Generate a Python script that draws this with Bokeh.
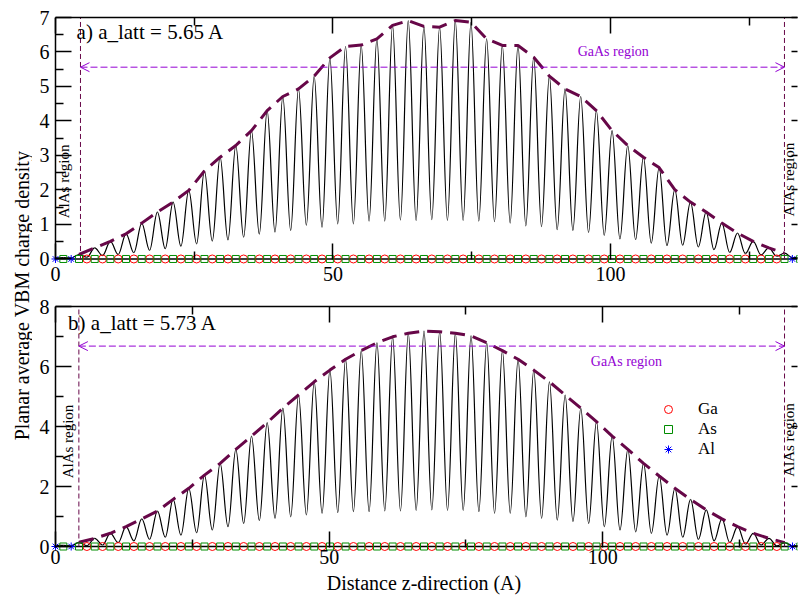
import numpy as np
from bokeh.plotting import figure
from bokeh.layouts import row, column
from bokeh.models import (LinearAxis, Range1d, Label, Arrow, OpenHead, Legend,
                          LegendItem, FixedTicker)
from bokeh.embed import file_html
from bokeh.resources import INLINE

SERIF = "Liberation Serif"
MAROON = "#670748"
VIOLET = "#9400d3"
GA_COLOR = "#ff0000"
AS_COLOR = "#008c00"
AL_COLOR = "#0000ff"

# lattice constants (A)
A_LATT_A = 5.65
A_LATT_B = 5.73

# planar-average density at the As layers (peaks, j = 0..47), panel a
peaks_a = [0.04, 0.13, 0.32, 0.51, 0.73, 1.04, 1.36, 1.65, 1.99, 2.55, 2.95, 3.29,
           3.72, 4.30, 4.71, 4.93, 5.30, 5.83, 6.16, 6.20, 6.38, 6.77, 6.91, 6.74,
           6.72, 6.91, 6.86, 6.38, 6.19, 6.19, 5.85, 5.30, 4.93, 4.71, 4.30, 3.72,
           3.29, 2.95, 2.65, 2.01, 1.65, 1.36, 1.04, 0.75, 0.51, 0.32, 0.17, 0.04]
# density at the cation layers between peaks (troughs), panel a
troughs_a = [0.03, 0.05, 0.10, 0.13, 0.18, 0.25, 0.30, 0.37, 0.44, 0.52, 0.55, 0.63,
             0.72, 0.78, 0.83, 0.98, 0.92, 1.02, 1.02, 1.10, 1.10, 1.13, 1.12, 1.14,
             1.12, 1.12, 1.10, 1.08, 1.04, 0.96, 0.94, 0.85, 0.83, 0.77, 0.68, 0.58,
             0.56, 0.46, 0.39, 0.40, 0.35, 0.27, 0.19, 0.16, 0.12, 0.08, 0.04]
edge_a = [0.03, 0.03]

peaks_b = [0.04, 0.14, 0.27, 0.44, 0.66, 0.92, 1.18, 1.57, 1.94, 2.38, 2.77, 3.24,
           3.68, 4.13, 4.61, 5.05, 5.49, 5.88, 6.24, 6.53, 6.79, 6.99, 7.11, 7.18,
           7.16, 7.11, 7.02, 6.79, 6.53, 6.24, 5.88, 5.49, 5.05, 4.61, 4.16, 3.68,
           3.24, 2.77, 2.35, 1.94, 1.57, 1.22, 0.92, 0.66, 0.44, 0.27, 0.13, 0.04]
troughs_b = [0.02, 0.03, 0.05, 0.13, 0.19, 0.24, 0.31, 0.38, 0.46, 0.55, 0.66, 0.77,
             0.86, 0.94, 0.99, 1.05, 1.11, 1.13, 1.16, 1.16, 1.19, 1.19, 1.20, 1.22,
             1.20, 1.20, 1.16, 1.11, 1.11, 0.99, 0.94, 0.88, 0.83, 0.77, 0.66, 0.55,
             0.49, 0.44, 0.38, 0.31, 0.24, 0.19, 0.13, 0.08, 0.05, 0.02, 0.02]
edge_b = [0.03, 0.03]

# atomic layers (layer index; z = index * a_latt / 4)
al_layers = [0, 2, 94, 96]
ga_layers = list(range(4, 93, 2))
as_layers = list(range(1, 96, 2))

# region boundaries (A) and arrow levels
bounds_a = [4.5, 131.35]
bounds_b = [4.27, 133.2]
arrow_level_a = 5.56
arrow_level_b = 6.68

x_major = [0, 50, 100]
x_minor = [25, 75, 125]
y_major_a = [0, 1, 2, 3, 4, 5, 6, 7]
y_minor_a = [0.5, 1.5, 2.5, 3.5, 4.5, 5.5, 6.5]
y_major_b = [0, 2, 4, 6, 8]
y_minor_b = [1, 3, 5, 7]

legend_labels = ["Ga", "As", "Al"]

PAD = 5  # px of frame kept outside the z=0 / density=0 axes


def layer_values(peaks, troughs, edge):
    vals = [edge[0]]
    for j, pk in enumerate(peaks):
        vals.append(pk)
        if j < len(troughs):
            vals.append(troughs[j])
    vals.append(edge[1])
    return np.array(vals, dtype=float)


def tick_style(ax, major_in, minor_in, out=0):
    ax.major_tick_in = major_in
    ax.major_tick_out = out
    ax.minor_tick_in = minor_in
    ax.minor_tick_out = out
    ax.major_tick_line_width = 1.5
    ax.minor_tick_line_width = 1.5
    ax.major_tick_line_color = "black"
    ax.minor_tick_line_color = "black"


def label_style(ax, standoff):
    ax.major_label_standoff = standoff
    ax.major_label_text_font = SERIF
    ax.major_label_text_font_size = "20px"
    ax.major_label_text_color = "black"


def tick_only_axis(ticks, tick_in, with_line, bounds=None):
    ax = LinearAxis(ticker=FixedTicker(ticks=[], minor_ticks=ticks))
    tick_style(ax, 0, tick_in)
    ax.major_label_standoff = 0
    if with_line:
        ax.axis_line_color = "black"
        ax.axis_line_width = 1.5
    else:
        ax.axis_line_color = None
    if bounds is not None:
        ax.bounds = bounds
    return ax


def make_panel(cfg):
    a = cfg["a"]
    h = a / 4.0
    p = figure(width=766, height=cfg["height"],
               x_range=Range1d(cfg["x_start"], cfg["x_end"]),
               y_range=Range1d(cfg["y_start"], cfg["y_top"]),
               x_axis_type=None, y_axis_type=None,
               output_backend="svg", toolbar_location=None,
               min_border_left=18, min_border_right=1,
               min_border_top=cfg["border_top"], min_border_bottom=cfg["border_bottom"],
               outline_line_color=None, background_fill_color="white",
               border_fill_color="white")

    # bottom axis: ticks start at density 0 (PAD px above frame edge)
    below = LinearAxis(ticker=FixedTicker(ticks=x_major, minor_ticks=x_minor))
    below.axis_line_color = None
    tick_style(below, 16 + PAD, 8 + PAD, out=-PAD)
    label_style(below, cfg["xstandoff"])
    if cfg.get("xlabel"):
        below.axis_label = cfg["xlabel"]
        below.axis_label_text_font = SERIF
        below.axis_label_text_font_size = "20px"
        below.axis_label_text_font_style = "normal"
        below.axis_label_text_color = "black"
        below.axis_label_standoff = 5
    p.add_layout(below, "below")

    left = LinearAxis(ticker=FixedTicker(ticks=cfg["y_major"], minor_ticks=cfg["y_minor"]))
    left.axis_line_color = None
    tick_style(left, 16 + PAD, 8 + PAD, out=-PAD)
    label_style(left, 6)
    p.add_layout(left, "left")

    # mirrored ticks on top and right
    p.add_layout(tick_only_axis(x_major, 16, True, bounds=(0, cfg["x_end"])), "above")
    p.add_layout(tick_only_axis(x_minor, 8, False, bounds=(0, cfg["x_end"])), "above")
    p.add_layout(tick_only_axis(cfg["y_major"], 6, False), "right")

    # axis lines at z = 0 and density = 0
    p.segment(x0=[0, 0], y0=[0, 0], x1=[cfg["x_end"], 0], y1=[0, cfg["y_top"]],
              line_color="black", line_width=1.5)

    # density curve: smooth segments between successive atomic layers
    vals = layer_values(cfg["peaks"], cfg["troughs"], cfg["edge"])
    z = np.arange(len(vals)) * h
    k = 0.3642 * h
    p.bezier(x0=z[:-1], y0=vals[:-1], x1=z[1:], y1=vals[1:],
             cx0=z[:-1] + k, cy0=vals[:-1], cx1=z[1:] - k, cy1=vals[1:],
             line_color="black", line_width=1.2)

    # envelope through the As peaks inside the GaAs region
    pk = np.array(cfg["peaks"])
    idx = np.arange(1, len(pk) - 1)
    p.line((2 * idx + 1) * h, pk[idx], line_color=MAROON, line_width=3,
           line_dash="15 8")

    # region boundaries
    bnd = cfg["bounds"]
    p.segment(x0=bnd, y0=[0, 0], x1=bnd, y1=[cfg["y_top"], cfg["y_top"]],
              line_color=MAROON, line_width=1, line_dash="5 3")
    p.add_layout(Arrow(start=OpenHead(size=9, line_color=VIOLET, line_width=1),
                       end=OpenHead(size=9, line_color=VIOLET, line_width=1),
                       x_start=bnd[0], y_start=cfg["arrow_y"],
                       x_end=bnd[1], y_end=cfg["arrow_y"],
                       line_color=VIOLET, line_width=1, line_dash="7 3"))

    # atoms
    r_ga = p.scatter(np.array(ga_layers) * h, np.zeros(len(ga_layers)), marker="circle",
                     size=8, fill_color=None, line_color=GA_COLOR, line_width=1)
    r_as = p.scatter(np.array(as_layers) * h, np.zeros(len(as_layers)), marker="square",
                     size=7, fill_color=None, line_color=AS_COLOR, line_width=1)
    r_al = p.scatter(np.array(al_layers) * h, np.zeros(len(al_layers)), marker="asterisk",
                     size=8, line_color=AL_COLOR, line_width=1)

    # texts
    tx, ty = cfg["title_xy"]
    p.add_layout(Label(x=tx, y=ty, text=cfg["title"], text_font=SERIF,
                       text_font_size="21px", text_color="black",
                       text_align="left", text_baseline="middle"))
    gx, gy = cfg["gaas_xy"]
    p.add_layout(Label(x=gx, y=gy, text="GaAs region", text_font=SERIF,
                       text_font_size="14px", text_color=VIOLET,
                       text_align="center", text_baseline="middle"))
    for (ax_, ay_) in (cfg["alas_l"], cfg["alas_r"]):
        p.add_layout(Label(x=ax_, y=ay_, text="AlAs region", text_font=SERIF,
                           text_font_size="15px", text_color="black",
                           angle=np.pi / 2, text_align="center",
                           text_baseline="middle"))

    if cfg.get("legend_loc") is not None:
        legend = Legend(items=[LegendItem(label=legend_labels[0], renderers=[r_ga]),
                               LegendItem(label=legend_labels[1], renderers=[r_as]),
                               LegendItem(label=legend_labels[2], renderers=[r_al])],
                        location=cfg["legend_loc"], orientation="vertical",
                        glyph_width=20, glyph_height=20, label_standoff=20,
                        label_height=20, spacing=0, padding=0, margin=0,
                        border_line_color=None, background_fill_alpha=0,
                        label_text_font=SERIF, label_text_font_size="17px",
                        label_text_color="black")
        p.add_layout(legend)
    return p


cfg_a = dict(a=A_LATT_A, peaks=peaks_a, troughs=troughs_a, edge=edge_a,
             bounds=bounds_a, arrow_y=arrow_level_a,
             x_start=-0.9, x_end=133.7, y_start=-0.16, y_top=7,
             y_major=y_major_a, y_minor=y_minor_a,
             height=293, border_top=17, border_bottom=29, xstandoff=7,
             title="a) a_latt = 5.65 A", title_xy=(3.8, 6.57),
             gaas_xy=(100.5, 6.01), alas_l=(1.6, 2.25), alas_r=(132.2, 2.3))

cfg_b = dict(a=A_LATT_B, peaks=peaks_b, troughs=troughs_b, edge=edge_b,
             bounds=bounds_b, arrow_y=arrow_level_b,
             x_start=-0.914, x_end=135.57, y_start=-0.2, y_top=8,
             y_major=y_major_b, y_minor=y_minor_b,
             height=304, border_top=13, border_bottom=45, xstandoff=2,
             title="b) a_latt = 5.73 A", title_xy=(2.3, 7.45),
             gaas_xy=(104.3, 6.17), alas_l=(2.3, 3.5), alas_r=(134.0, 3.55),
             xlabel="Distance z-direction (A)", legend_loc=(608, 93))

p1 = make_panel(cfg_a)
p2 = make_panel(cfg_b)

p0 = figure(width=32, height=597, x_range=Range1d(0, 32), y_range=Range1d(0, 597),
            x_axis_type=None, y_axis_type=None, output_backend="svg",
            toolbar_location=None, min_border=0, outline_line_color=None)
p0.add_layout(Label(x=21, y=302, text="Planar average VBM charge density",
                    angle=np.pi / 2, text_align="center", text_baseline="middle",
                    text_font=SERIF, text_font_size="20px", text_color="black"))

layout = row(p0, column(p1, p2))
open("out.html", "w").write(file_html(layout, INLINE))
